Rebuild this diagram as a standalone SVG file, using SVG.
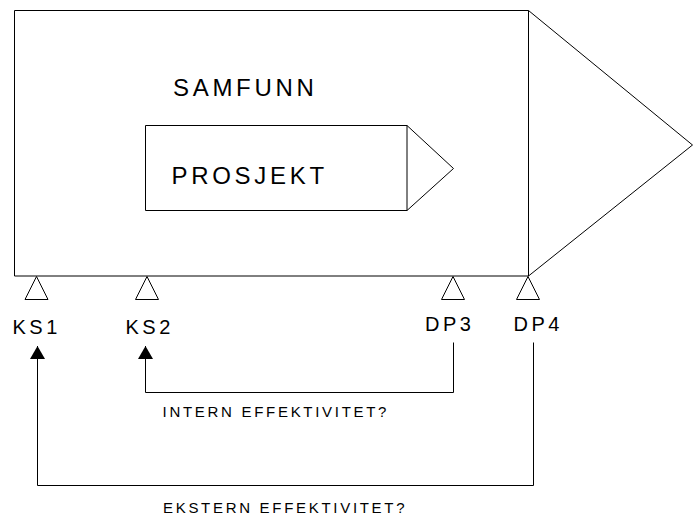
<svg xmlns="http://www.w3.org/2000/svg" width="693" height="516" viewBox="0 0 693 516">
<style>
.ln{fill:none;stroke:#000;stroke-width:1}
.sh{fill:#fff;stroke:#000;stroke-width:1}
.tt{font-family:"Liberation Sans",Arial,sans-serif;fill:#000}
.big{font-size:24px;letter-spacing:3.7px}
.lab{font-size:20px;letter-spacing:3.5px}
.sm{font-size:15px;letter-spacing:2.7px}
</style>
<defs>
<marker id="ah" markerUnits="userSpaceOnUse" viewBox="0 0 13 15" refX="13" refY="7.5" markerWidth="13" markerHeight="15" orient="auto">
<path d="M0,0 L13,7.5 L0,15 z" fill="#000"/>
</marker>
</defs>
<g id="samfunn">
<path class="sh" d="M14.5,10.5 H528.5 L692.5,145 L528.5,276 H14.5 Z"/>
<line class="ln" x1="528.5" y1="10.5" x2="528.5" y2="276"/>
<text class="tt big" x="173" y="96">SAMFUNN</text>
</g>
<g id="prosjekt">
<path class="sh" d="M145.5,125.5 H407 L453.5,168.5 L407,210.5 H145.5 Z"/>
<line class="ln" x1="407" y1="125.5" x2="407" y2="210.5"/>
<text class="tt big" x="171.5" y="184">PROSJEKT</text>
</g>
<g id="ks1">
<path class="sh" d="M36.5,276.5 L48,299.5 L25,299.5 Z"/>
<text class="tt lab" x="12.5" y="334">KS1</text>
</g>
<g id="ks2">
<path class="sh" d="M147,276.5 L158.5,299.5 L135.5,299.5 Z"/>
<text class="tt lab" x="125.5" y="334">KS2</text>
</g>
<g id="dp3">
<path class="sh" d="M453,276.5 L464.5,299.5 L441.5,299.5 Z"/>
<text class="tt lab" x="425" y="331">DP3</text>
</g>
<g id="dp4">
<path class="sh" d="M528,276.5 L539.5,299.5 L516.5,299.5 Z"/>
<text class="tt lab" x="513.5" y="331">DP4</text>
</g>
<g id="connectors">
<path class="ln" d="M453.5,342.5 V392.5 H145.5 V346" marker-end="url(#ah)"/>
<path class="ln" d="M533.5,342.5 V485.5 H37.5 V346" marker-end="url(#ah)"/>
<text class="tt sm" x="162.6" y="417">INTERN EFFEKTIVITET?</text>
<text class="tt sm" x="163" y="512.5">EKSTERN EFFEKTIVITET?</text>
</g>
</svg>
